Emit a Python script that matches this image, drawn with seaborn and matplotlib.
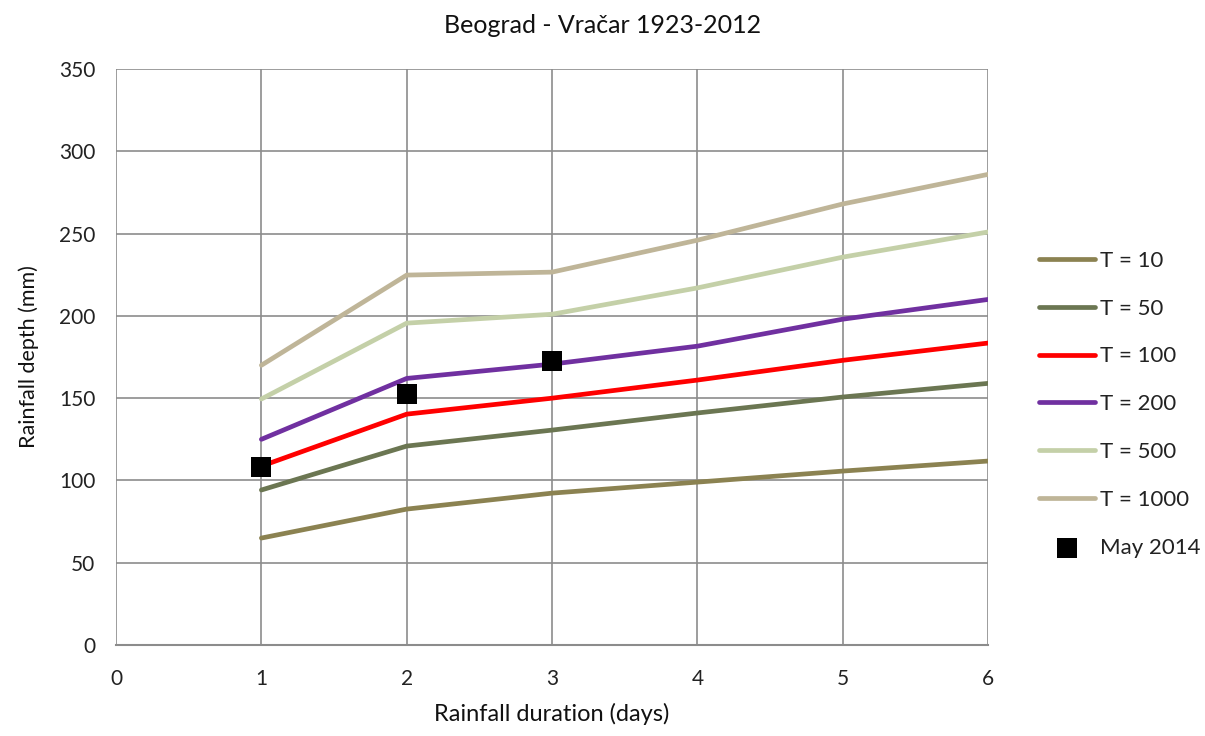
import matplotlib
matplotlib.use("Agg")
import matplotlib.pyplot as plt
import seaborn as sns
import pandas as pd

sns.set_theme(style="white")
plt.rcParams['font.family'] = ['Lato', 'DejaVu Sans']

days = [1, 2, 3, 4, 5, 6]
t10 = [65, 82.6, 92.3, 99, 105.7, 111.8]
t50 = [94.2, 120.9, 130.6, 141, 150.7, 159]
t100 = [108.7, 140.3, 150, 161, 173, 183.5]
t200 = [125, 162, 170.7, 181.6, 198, 210]
t500 = [149.5, 195.6, 201, 217, 235.7, 251]
t1000 = [170, 224.8, 226.6, 246, 268, 286]
series_names = ["T = 10", "T = 50", "T = 100", "T = 200", "T = 500", "T = 1000"]
colors = ["#8B8251", "#6B7652", "#FF0000", "#7030A0", "#C4D0A8", "#BFB598"]

may_days = [1, 2, 3]
may_vals = [108, 152.5, 172.5]

rows = []
for name, vals in zip(series_names, [t10, t50, t100, t200, t500, t1000]):
    for d, v in zip(days, vals):
        rows.append({"days": d, "depth": v, "series": name})
df = pd.DataFrame(rows)
df_may = pd.DataFrame({"days": may_days, "depth": may_vals, "series": "May 2014"})

fig = plt.figure(figsize=(12.05, 7.36), dpi=100)
ax = fig.add_axes([0.0963, 0.1236, 0.7237, 0.7826])

sns.lineplot(data=df, x="days", y="depth", hue="series", hue_order=series_names,
             palette=colors, linewidth=3.4, ax=ax, zorder=3)
sns.scatterplot(data=df_may, x="days", y="depth", color="black", marker="s",
                s=200, edgecolor="black", linewidth=0, ax=ax, zorder=4,
                label="May 2014")

ax.set_xlim(0, 6)
ax.set_ylim(0, 350)
ax.set_xticks(range(0, 7))
ax.set_yticks(range(0, 351, 50))
ax.grid(True, color="#8C8C8C", linewidth=1.2)
ax.set_axisbelow(True)
for s in ["top", "right", "left"]:
    ax.spines[s].set_visible(False)
ax.spines["bottom"].set_color("#8C8C8C")
ax.spines["bottom"].set_linewidth(1.5)
ax.tick_params(axis="both", which="both", length=7, color="#8C8C8C",
               labelsize=15, labelcolor="#222222", width=1.2)
ax.tick_params(axis="y", pad=8)
ax.tick_params(axis="x", pad=10)

ax.set_xlabel("Rainfall duration (days)", fontsize=17, color="#111111", labelpad=10)
ax.set_ylabel("Rainfall depth (mm)", fontsize=15.5, color="#111111", labelpad=14)
fig.text(0.5, 0.965, "Beograd - Vračar 1923-2012", ha="center", va="center",
         fontsize=18, color="#111111")

handles, labels = ax.get_legend_handles_labels()
leg = ax.legend(handles, labels, loc="center left", bbox_to_anchor=(1.035, 0.418),
                frameon=False, fontsize=16, handlelength=2.55, handletextpad=0.2,
                labelspacing=1.25, markerscale=1.0)
for t in leg.get_texts():
    t.set_color("#222222")

fig.savefig("out.png", dpi=100)
